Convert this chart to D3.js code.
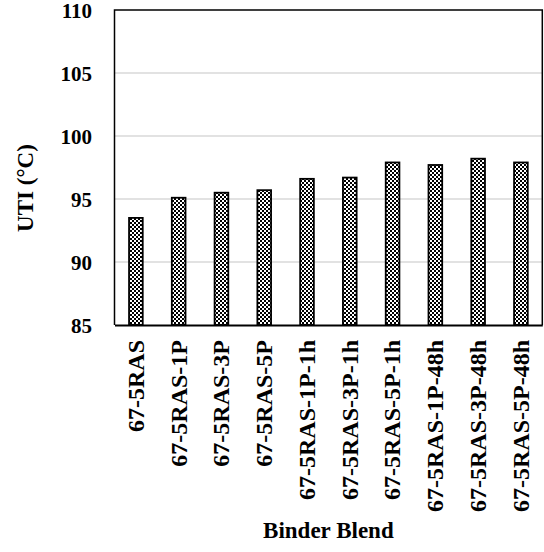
<!DOCTYPE html>
<html>
<head>
<meta charset="utf-8">
<script src="https://cdn.jsdelivr.net/npm/d3@7"></script>
<style>
  html, body { margin: 0; padding: 0; background: #fff; }
  svg { display: block; }
  svg text { font-family: 'Liberation Serif', Tinos, 'Times New Roman', Times, 'DejaVu Serif', serif !important; font-weight: bold; fill: #000; }
</style>
</head>
<body>
<svg id="chart" width="544" height="552"></svg>
<script>
// Binder blends and their UTI values (°C)
const categories = [
  "67-5RAS", "67-5RAS-1P", "67-5RAS-3P", "67-5RAS-5P",
  "67-5RAS-1P-1h", "67-5RAS-3P-1h", "67-5RAS-5P-1h",
  "67-5RAS-1P-48h", "67-5RAS-3P-48h", "67-5RAS-5P-48h"
];
const utiValues = [93.5, 95.1, 95.5, 95.7, 96.6, 96.7, 97.9, 97.7, 98.2, 97.9];
const yTicks = [85, 90, 95, 100, 105, 110];
const xTitle = "Binder Blend";
const yTitle = "UTI (°C)";

const svg = d3.select("#chart");
const plot = { left: 114.5, right: 542.3, top: 10, bottom: 325 };

const x = d3.scaleBand()
  .domain(categories)
  .range([plot.left, plot.right])
  .paddingInner(0.68)
  .paddingOuter(0.34);

const y = d3.scaleLinear()
  .domain([85, 110])
  .range([plot.bottom, plot.top]);

// checkerboard fill for the bars
const defs = svg.append("defs");
const pat = defs.append("pattern")
  .attr("id", "checker")
  .attr("patternUnits", "userSpaceOnUse")
  .attr("width", 4).attr("height", 4);
pat.append("rect").attr("width", 4).attr("height", 4).attr("fill", "#fff");
pat.append("rect").attr("x", 0).attr("y", 0).attr("width", 2).attr("height", 2).attr("fill", "#000");
pat.append("rect").attr("x", 2).attr("y", 2).attr("width", 2).attr("height", 2).attr("fill", "#000");

// horizontal gridlines
svg.append("g")
  .selectAll("line")
  .data(yTicks.filter(t => t > 85 && t < 110))
  .join("line")
  .attr("x1", plot.left).attr("x2", plot.right)
  .attr("y1", d => y(d)).attr("y2", d => y(d))
  .attr("stroke", "#d9d9d9")
  .attr("stroke-width", 1.5);

// bars
svg.append("g")
  .selectAll("rect")
  .data(utiValues)
  .join("rect")
  .attr("x", (d, i) => x(categories[i]))
  .attr("width", x.bandwidth())
  .attr("y", d => y(d))
  .attr("height", d => y(85) - y(d))
  .attr("fill", "url(#checker)")
  .attr("stroke", "#000")
  .attr("stroke-width", 1.8);

// plot frame
svg.append("path")
  .attr("d", `M${plot.left},${plot.bottom}V${plot.top}H${plot.right}V${plot.bottom}`)
  .attr("fill", "none")
  .attr("stroke", "#000")
  .attr("stroke-width", 1.5);

const serif = "'Liberation Serif', Tinos, 'Times New Roman', Times, 'DejaVu Serif', serif";

// x axis line and rotated category labels
const xAxis = d3.axisBottom(x).tickSize(0).tickPadding(0);
const gx = svg.append("g")
  .attr("transform", `translate(0,${plot.bottom})`)
  .call(xAxis)
  .attr("font-family", serif);
gx.select(".domain").attr("stroke", "#000").attr("stroke-width", 2);
gx.selectAll(".tick text")
  .attr("font-size", 24)
  .attr("text-anchor", "end")
  .attr("x", 0).attr("y", 0)
  .attr("dy", "0.33em")
  .attr("transform", "translate(0,15) rotate(-90)");

// y axis labels
const yAxis = d3.axisLeft(y).tickValues(yTicks).tickSize(0).tickPadding(0);
const gy = svg.append("g")
  .attr("transform", `translate(92,0)`)
  .call(yAxis)
  .attr("font-family", serif);
gy.select(".domain").remove();
gy.selectAll(".tick text")
  .attr("font-size", 21)
  .attr("x", 0)
  .attr("dy", "0.34em");

// axis titles
svg.append("text")
  .attr("x", (plot.left + plot.right) / 2)
  .attr("y", 538)
  .attr("text-anchor", "middle")
  .attr("font-size", 23)
  .text(xTitle);

svg.append("text")
  .attr("transform", "translate(33,188) rotate(-90)")
  .attr("text-anchor", "middle")
  .attr("font-size", 23)
  .text(yTitle);
</script>
</body>
</html>
